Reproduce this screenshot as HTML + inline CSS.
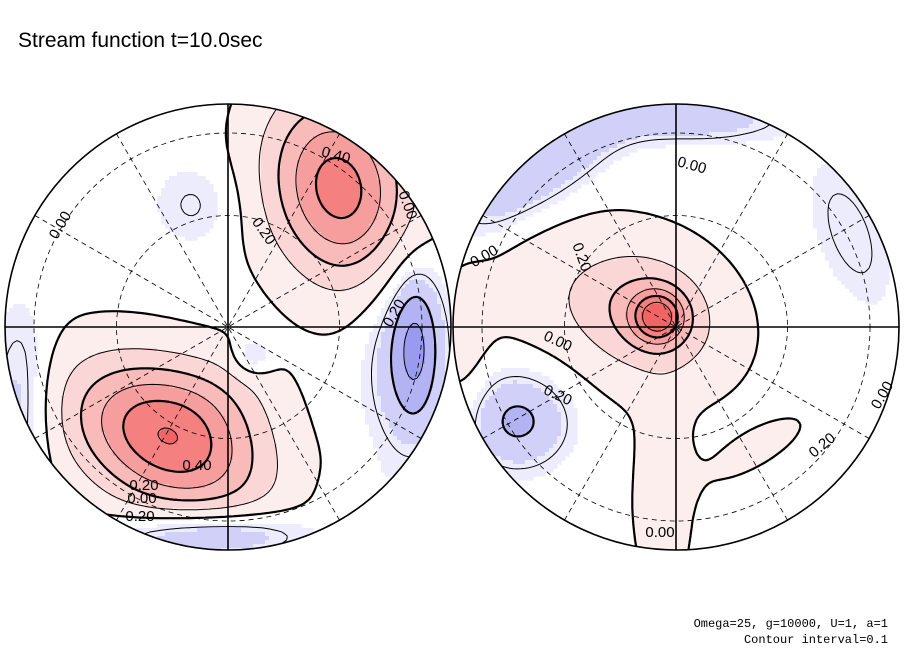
<!DOCTYPE html>
<html><head><meta charset="utf-8"><style>
body{margin:0;background:#fff;}
svg{display:block;font-family:"Liberation Sans",sans-serif;}
.lbl{font-size:15px;fill:#000;}
</style></head><body>
<svg id="chart" width="904" height="654" viewBox="0 0 904 654">
<defs>
<clipPath id="clipL"><circle cx="228" cy="327" r="223"/></clipPath>
<clipPath id="clipR"><circle cx="676" cy="327" r="223"/></clipPath>
</defs>
<text x="18" y="47" font-size="21">Stream function t=10.0sec</text>
<g id="hemL" clip-path="url(#clipL)"></g>
<g id="hemR" clip-path="url(#clipR)"></g>
<g id="frame"></g>
<text x="888" y="627" font-size="12" text-anchor="end" font-family="Liberation Mono, monospace">Omega=25, g=10000, U=1, a=1</text>
<text x="888" y="643" font-size="12" text-anchor="end" font-family="Liberation Mono, monospace">Contour interval=0.1</text>
</svg>
<script>
// blob data: hemisphere index, x, y (unit radius), amplitude, sigma x, sigma y, angle (deg)
const blobHem   = [0,0,0,0,0,0,0,0,0,0, 1,1,1,1,1,1,1,1,1,1];
const blobX     = [-0.28,0.5,0.84,0.8,0.11,-0.15,-0.08,-0.93,0.55,-0.05, -0.08,-0.1,-0.35,-0.06,-0.71,-0.6,0.1,0.78,0.35,-0.95];
const blobY     = [0.5,-0.62,0.08,0.1,0.13,-0.55,0.93,0.33,0.75,0.3, -0.045,-0.06,-0.1,0.75,0.42,-0.7,-0.93,-0.42,0.55,0.1];
const blobAmp   = [0.52,0.48,-0.18,-0.15,-0.12,-0.08,-0.22,-0.14,-0.04,0.07, 0.38,0.2,0.1,0.08,-0.2,-0.17,-0.14,-0.1,0.03,0.06];
const blobSx    = [0.32,0.22,0.07,0.14,0.06,0.14,0.3,0.1,0.1,0.2, 0.075,0.2,0.35,0.08,0.17,0.38,0.3,0.12,0.25,0.08];
const blobSy    = [0.21,0.3,0.22,0.35,0.06,0.14,0.08,0.3,0.08,0.15, 0.075,0.17,0.22,0.3,0.16,0.11,0.08,0.28,0.08,0.3];
const blobAngle = [28,-15,0,0,0,0,0,0,-30,0, 0,35,20,0,0,-35,0,-20,-30,0];
const baseline  = [-0.03,-0.02];
const levels  = [-0.3,-0.2,-0.1,0,0.1,0.2,0.3,0.4,0.5];
const labelText = ["0.40","0.00","0.20","0.00","0.20","0.40","0.20","0.00","0.20","0.00","0.00","0.20","0.00","0.20","0.20","0.00","0.00"];
const labelX = [336,408,264,60,394,197,144,142,140,692,484,582,558,558,822,882,660];
const labelY = [160,210,236,230,318,470,490,503,521,170,261,262,346,400,450,400,537];
const labelRot=[15,70,55,-60,-60,0,0,0,0,15,-30,70,25,25,-40,-60,0];

const NS="http://www.w3.org/2000/svg";
const R=223, centers=[[228,327],[676,327]];
function field(h,u,v){let s=baseline[h];for(let i=0;i<blobHem.length;i++){if(blobHem[i]!==h)continue;const a=blobAngle[i]*Math.PI/180,ca=Math.cos(a),sa=Math.sin(a);const px=u-blobX[i],py=v-blobY[i];const rx=(px*ca+py*sa)/blobSx[i],ry=(-px*sa+py*ca)/blobSy[i];s+=blobAmp[i]*Math.exp(-0.5*(rx*rx+ry*ry));}return s;}
function fillColor(val){
  if(val>0.5)return"#f06464";if(val>0.4)return"#f48080";if(val>0.3)return"#f69e9e";if(val>0.2)return"#f9baba";if(val>0.1)return"#fbd6d6";if(val>0.0)return"#fdeeee";
  if(val<-0.3)return"#9a9af0";if(val<-0.2)return"#b3b3f4";if(val<-0.12)return"#d0d0f8";if(val<-0.07)return"#ececfc";return null;}
const step=4;
centers.forEach((c,h)=>{
  const g=document.getElementById(h?"hemR":"hemL");
  const N=Math.ceil(2*R/step)+1;const x0=c[0]-R,y0=c[1]-R;
  const F=[];for(let j=0;j<=N;j++){F[j]=[];for(let i=0;i<=N;i++){F[j][i]=field(h,(x0+i*step-c[0])/R,(y0+j*step-c[1])/R);}}
  let rects="";
  for(let j=0;j<N;j++)for(let i=0;i<N;i++){const v=(F[j][i]+F[j][i+1]+F[j+1][i]+F[j+1][i+1])/4;const col=fillColor(v);if(col)rects+=`<rect x="${x0+i*step}" y="${y0+j*step}" width="${step+0.6}" height="${step+0.6}" fill="${col}"/>`;}
  const fg=document.createElementNS(NS,"g");
  
  
  fg.innerHTML=rects;g.appendChild(fg);
  levels.forEach(L=>{
    let d="";
    for(let j=0;j<N;j++)for(let i=0;i<N;i++){
      const a=F[j][i],b=F[j][i+1],cc=F[j+1][i+1],dd=F[j+1][i];const px=x0+i*step,py=y0+j*step;const pts=[];
      if((a>L)!==(b>L))pts.push([px+step*(L-a)/(b-a),py]);
      if((b>L)!==(cc>L))pts.push([px+step,py+step*(L-b)/(cc-b)]);
      if((dd>L)!==(cc>L))pts.push([px+step*(L-dd)/(cc-dd),py+step]);
      if((a>L)!==(dd>L))pts.push([px,py+step*(L-a)/(dd-a)]);
      for(let k=0;k+1<pts.length;k+=2)d+=`M${pts[k][0].toFixed(1)},${pts[k][1].toFixed(1)}L${pts[k+1][0].toFixed(1)},${pts[k+1][1].toFixed(1)}`;
    }
    const p=document.createElementNS(NS,"path");
    p.setAttribute("d",d);p.setAttribute("fill","none");p.setAttribute("stroke","#000");
    const major=Math.abs(Math.round(L*10))%2===0;
    p.setAttribute("stroke-width",major?2.2:1);
    if(L<-0.01)p.setAttribute("stroke-dasharray","6,4");
    
    
    g.appendChild(p);
  });
  const gg=document.createElementNS(NS,"g");
  
  
  let gs="";
  [0.5,0.87].forEach(f=>{gs+=`<circle cx="${c[0]}" cy="${c[1]}" r="${R*f}" fill="none" stroke="#000" stroke-width="0.8" stroke-dasharray="5,4"/>`;});
  for(let k=1;k<6;k++){if(k===3)continue;const an=k*Math.PI/6;gs+=`<line x1="${c[0]-R*Math.cos(an)}" y1="${c[1]-R*Math.sin(an)}" x2="${c[0]+R*Math.cos(an)}" y2="${c[1]+R*Math.sin(an)}" stroke="#000" stroke-width="0.8" stroke-dasharray="5,4"/>`;}
  gs+=`<line x1="${c[0]}" y1="${c[1]-R}" x2="${c[0]}" y2="${c[1]+R}" stroke="#000" stroke-width="1.6"/>`;
  gs+=`<line x1="${c[0]-R}" y1="${c[1]}" x2="${c[0]+R}" y2="${c[1]}" stroke="#000" stroke-width="1.6"/>`;
  gg.innerHTML=gs;g.appendChild(gg);
  const circ=document.createElementNS(NS,"circle");
  circ.setAttribute("cx",c[0]);circ.setAttribute("cy",c[1]);circ.setAttribute("r",R);circ.setAttribute("fill","none");circ.setAttribute("stroke","#000");circ.setAttribute("stroke-width","1.6");
  
  
  document.getElementById("frame").appendChild(circ);
});
const fr=document.getElementById("frame");
labelText.forEach((t,i)=>{
  const tx=document.createElementNS(NS,"text");
  tx.setAttribute("x",labelX[i]);tx.setAttribute("y",labelY[i]);tx.setAttribute("class","lbl");tx.setAttribute("text-anchor","middle");
  tx.setAttribute("transform",`rotate(${labelRot[i]} ${labelX[i]} ${labelY[i]-5})`);
  tx.textContent=t;
  
  
  fr.appendChild(tx);
});
</script>
</body></html>
